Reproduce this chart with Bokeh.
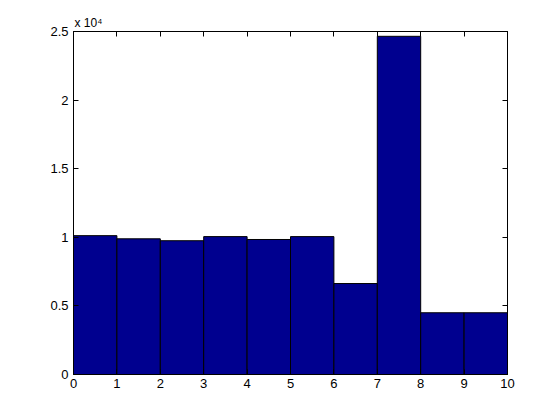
from bokeh.plotting import figure
from bokeh.models import FixedTicker, LinearAxis, Range1d, Title
from bokeh.embed import file_html
from bokeh.resources import INLINE

# histogram data
bin_edges = [0, 1, 2, 3, 4, 5, 6, 7, 8, 9, 10]
counts = [10120, 9890, 9750, 10050, 9840, 10050, 6630, 24650, 4500, 4500]
x_ticks = [0, 1, 2, 3, 4, 5, 6, 7, 8, 9, 10]
y_ticks = [0, 5000, 10000, 15000, 20000, 25000]
y_tick_labels = ["0", "0.5", "1", "1.5", "2", "2.5"]
exponent_text = "x 10\u2074"

FONT = "Liberation Sans"
W, H = 552, 412

p = figure(width=W, height=H, output_backend="svg", toolbar_location=None,
           x_range=Range1d(0, 10), y_range=Range1d(0, 25000),
           min_border_left=73, min_border_right=45, min_border_top=31, min_border_bottom=38)
p.background_fill_color = "white"
p.border_fill_color = "white"
p.grid.visible = False
p.outline_line_color = "black"
p.outline_line_width = 1

p.title = Title(text=exponent_text, align="left", offset=1, standoff=4,
                text_font=FONT, text_font_size="12px", text_font_style="normal",
                text_color="black")

p.quad(left=bin_edges[:-1], right=bin_edges[1:], top=counts, bottom=0,
       fill_color="#00008F", line_color="black", line_width=1)

def style(ax, labels=True):
    ax.major_tick_in = 5
    ax.major_tick_out = 0
    ax.minor_tick_in = 0
    ax.minor_tick_out = 0
    ax.axis_line_color = "black"
    ax.major_tick_line_color = "black"
    ax.major_label_text_font = FONT
    ax.major_label_text_font_size = "13px"
    ax.major_label_text_color = "black"
    if not labels:
        ax.major_label_text_font_size = "0px"
        ax.major_label_text_alpha = 0

xa = p.xaxis[0]
xa.ticker = FixedTicker(ticks=x_ticks)
xa.major_label_standoff = 4
style(xa)

ya = p.yaxis[0]
ya.ticker = FixedTicker(ticks=y_ticks)
ya.major_label_overrides = {t: l for t, l in zip(y_ticks, y_tick_labels)}
ya.major_label_standoff = 5
style(ya)

top = LinearAxis(ticker=FixedTicker(ticks=x_ticks))
style(top, labels=False)
p.add_layout(top, "above")
right = LinearAxis(ticker=FixedTicker(ticks=y_ticks))
style(right, labels=False)
p.add_layout(right, "right")

open("out.html", "w").write(file_html(p, INLINE))
